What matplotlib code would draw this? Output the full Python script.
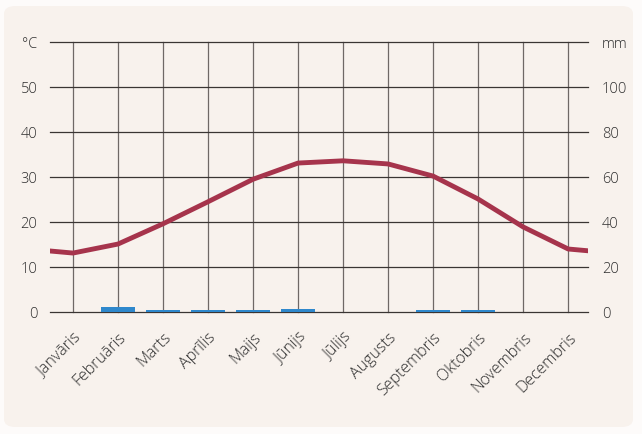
import matplotlib

matplotlib.use("Agg")
import matplotlib.pyplot as plt
from matplotlib.patches import FancyBboxPatch

months = ["Janvāris", "Februāris", "Marts", "Aprīlis", "Maijs", "Jūnijs",
          "Jūlijs", "Augusts", "Septembris", "Oktobris", "Novembris", "Decembris"]
temperature = [13.1, 15.1, 19.6, 24.5, 29.5, 33.1, 33.6, 32.9, 30.2, 25.1, 18.9, 14.0]
precipitation = [0, 2.2, 1.0, 0.8, 0.8, 1.2, 0, 0, 1.0, 1.0, 0, 0]
temp_ticks = [0, 10, 20, 30, 40, 50]
prec_ticks = [0, 20, 40, 60, 80, 100]

TEXT = "#2e2e2e"
GRID_H = "#3a3533"
GRID_V = "#6f6866"
POS = [50 / 642, 122 / 435, 538 / 642, 270 / 435]
XLIM = (-0.51, 11.44)

plt.rcParams["font.family"] = ["Open Sans", "DejaVu Sans"]
plt.rcParams["font.weight"] = "light"

fig = plt.figure(figsize=(6.42, 4.35), dpi=100)
fig.patch.set_facecolor("#fdfbfa")
card = FancyBboxPatch((4 / 642, 7 / 435), 629 / 642, 421 / 435,
                      boxstyle="round,pad=0,rounding_size=0.018",
                      transform=fig.transFigure, facecolor="#f8f2ed",
                      edgecolor="none", zorder=-5)
fig.patches.append(card)

ax = fig.add_axes(POS)
ax2 = ax.twinx()
ax_line = fig.add_axes(POS)

x = list(range(len(months)))
ax.set_xlim(*XLIM)
ax.set_ylim(0, 60)
ax2.set_ylim(0, 120)
ax_line.set_xlim(*XLIM)
ax_line.set_ylim(0, 60)
ax_line.axis("off")

# grid
for xi in x:
    ax.plot([xi, xi], [0, 60], color=GRID_V, linewidth=0.9, zorder=1, clip_on=False)
for yv in temp_ticks + [60]:
    ax.axhline(yv, color=GRID_H, linewidth=0.9, zorder=1, clip_on=False)

# precipitation bars on right axis
ax2.bar(x, precipitation, width=0.76, color="#2f88cc", zorder=3)

# temperature line, continued across year boundary
ext_x = [-1] + x + [12]
ext_t = [temperature[-1]] + temperature + [temperature[0]]
ax_line.plot(ext_x, ext_t, color="#a6344c", linewidth=3.5, solid_capstyle="butt",
             solid_joinstyle="round")

for a in (ax, ax2):
    for s in a.spines.values():
        s.set_visible(False)
    a.tick_params(length=0)
    a.patch.set_visible(False)

ax.set_yticks(temp_ticks + [60])
ax.set_yticklabels([str(v) for v in temp_ticks] + ["°C"], fontsize=10.5, color=TEXT)
ax.tick_params(axis="y", pad=9)
ax2.set_yticks(prec_ticks + [120])
ax2.set_yticklabels([str(v) for v in prec_ticks] + ["mm"], fontsize=10.5, color=TEXT)
ax2.tick_params(axis="y", pad=10)

ax.set_xticks(x)
ax.set_xticklabels(months, rotation=45, ha="right", rotation_mode="anchor",
                   fontsize=11.5, color=TEXT)
ax.tick_params(axis="x", pad=12)

ax.set_zorder(1)
ax2.set_zorder(2)
ax_line.set_zorder(3)

fig.savefig("out.png", dpi=100, facecolor=fig.get_facecolor())
